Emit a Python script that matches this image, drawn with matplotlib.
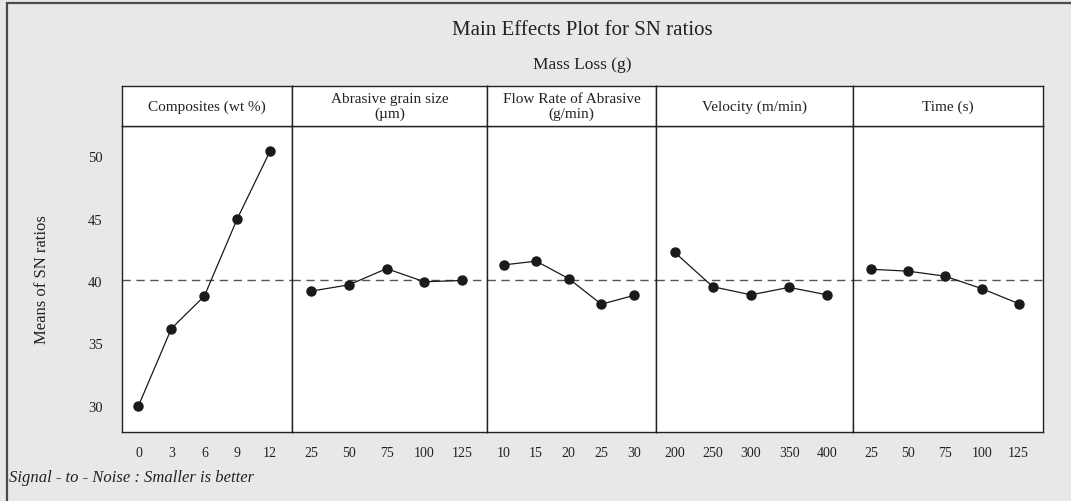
import matplotlib.pyplot as plt
from matplotlib.patches import Rectangle

plt.rcParams["font.family"] = ["Liberation Serif", "DejaVu Serif"]

# factor names and level labels
factors = ["Composites (wt %)", "Abrasive grain size\n(µm)", "Flow Rate of Abrasive\n(g/min)",
           "Velocity (m/min)", "Time (s)"]
composite_levels = ["0", "3", "6", "9", "12"]
grain_levels = ["25", "50", "75", "100", "125"]
flow_levels = ["10", "15", "20", "25", "30"]
velocity_levels = ["200", "250", "300", "350", "400"]
time_levels = ["25", "50", "75", "100", "125"]

# mean SN ratios per level
composite_sn = [30.0, 36.2, 38.8, 45.0, 50.45]
grain_sn = [39.2, 39.7, 41.0, 39.95, 40.05]
flow_sn = [41.3, 41.6, 40.2, 38.15, 38.85]
velocity_sn = [42.3, 39.55, 38.9, 39.5, 38.9]
time_sn = [40.95, 40.8, 40.4, 39.4, 38.2]
grand_mean = 40.1

levels = [composite_levels, grain_levels, flow_levels, velocity_levels, time_levels]
means = [composite_sn, grain_sn, flow_sn, velocity_sn, time_sn]

W, H = 1071, 502
bg = "#e7e8e8"
fig = plt.figure(figsize=(W / 100, H / 100), dpi=100, facecolor=bg)

# outer frame (top and left edges visible)
fig.patches.append(Rectangle((7 / W, -0.1), 1.2, 1 - 4 / H + 0.1, transform=fig.transFigure,
                             fill=False, edgecolor="#4a4a4a", linewidth=1.6))

# panel edges in pixels
edges = [122, 292.3, 487.3, 655.7, 852.7, 1043.3]
plot_top, plot_bot, head_top = 126.7, 433.3, 87.3

for i in range(5):
    x0 = edges[i] / W
    w = (edges[i + 1] - edges[i]) / W
    ax = fig.add_axes([x0, 1 - plot_bot / H, w, (plot_bot - plot_top) / H])
    ax.set_facecolor("white")
    xs = list(range(len(levels[i])))
    ax.axhline(grand_mean, color="#555555", lw=1.0, dashes=(6, 4))
    ax.plot(xs, means[i], color="#1a1a1a", lw=0.9, marker="o", ms=6.5, zorder=3)
    ax.set_xlim(-0.5, 4.67)
    ax.set_ylim(27.88, 52.46)
    ax.set_xticks(xs)
    ax.set_xticklabels(levels[i])
    ax.tick_params(axis="x", length=0, pad=10, labelsize=10, colors="#222222")
    if i == 0:
        ax.set_yticks([30, 35, 40, 45, 50])
        ax.tick_params(axis="y", length=0, pad=14, labelsize=10.5, colors="#222222")
    else:
        ax.set_yticks([])
    for s in ax.spines.values():
        s.set_color("#222222")
        s.set_linewidth(1.0)

    # header strip
    hx = fig.add_axes([x0, 1 - plot_top / H, w, (plot_top - head_top) / H])
    hx.set_facecolor("white")
    hx.set_xticks([])
    hx.set_yticks([])
    for s in hx.spines.values():
        s.set_color("#222222")
        s.set_linewidth(1.0)
    hx.text(0.5, 0.5, factors[i], ha="center", va="center", fontsize=11,
            linespacing=1.2, transform=hx.transAxes, color="#222222")

cx = (edges[0] + edges[-1]) / 2 / W
fig.text(cx, 1 - 31 / H, "Main Effects Plot for SN ratios", ha="center", va="center",
         fontsize=15, color="#222222")
fig.text(cx, 1 - 65 / H, "Mass Loss (g)", ha="center", va="center", fontsize=12.5,
         color="#222222")
fig.text(42 / W, 1 - 280 / H, "Means of SN ratios", rotation=90, ha="center", va="center",
         fontsize=12, color="#222222")
fig.text(9 / W, 1 - 478 / H, "Signal - to - Noise : Smaller is better", ha="left",
         va="center", fontsize=12, style="italic", color="#222222")

fig.savefig("out.png", dpi=100, facecolor=bg)
